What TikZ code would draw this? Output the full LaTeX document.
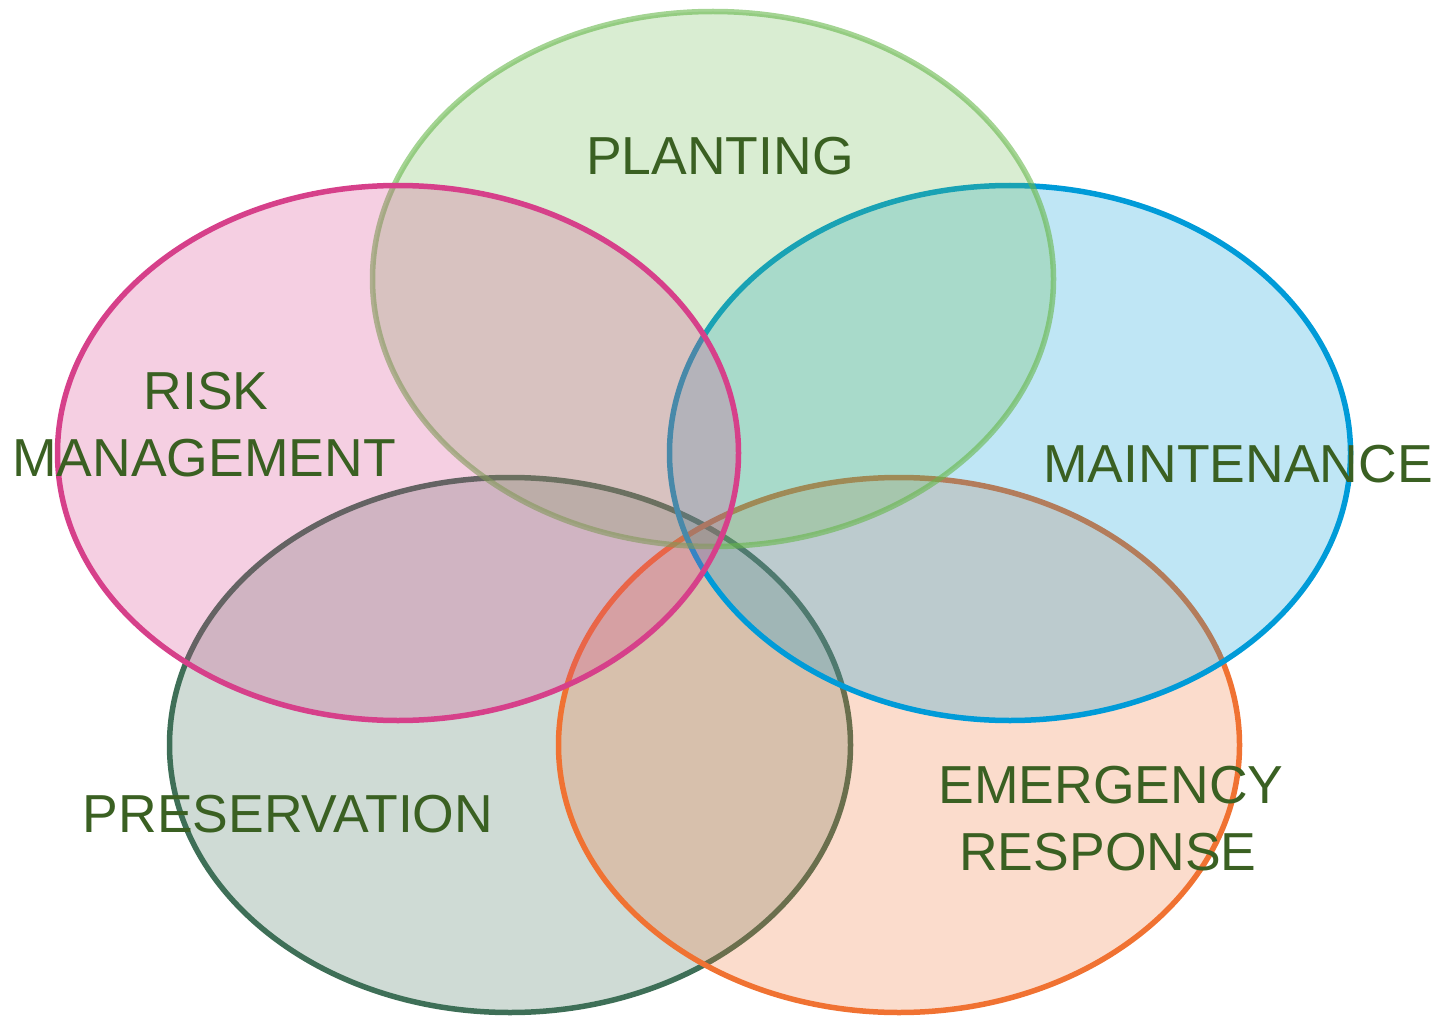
\documentclass[tikz,border=0pt]{standalone}
\usepackage{fontspec}
\setmainfont{Liberation Sans}
\definecolor{cplant}{HTML}{67B74B}
\definecolor{cpink}{HTML}{D6408A}
\definecolor{cblue}{HTML}{009BD8}
\definecolor{cpres}{HTML}{3E6F57}
\definecolor{corange}{HTML}{F07232}
\definecolor{ctext}{HTML}{3A6022}
\begin{document}
\begin{tikzpicture}[x=1pt,y=-1pt,
  blob/.style={line width=5.5pt, fill opacity=0.25},
  lbl/.style={text=ctext, font=\fontsize{53.5}{64}\selectfont, anchor=base, inner sep=0pt}]
\useasboundingbox (0,0) rectangle (1443,1019);
\coordinate (cpres) at (510,745);
\coordinate (corange) at (899,745);
\coordinate (cblue) at (1010,453);
\coordinate (cplant) at (713,279);
\coordinate (cpink) at (398,453);
\path[blob, draw=cpres, fill=cpres] (cpres) ellipse [x radius=340.5pt, y radius=267.5pt];
\path[blob, draw=corange, fill=corange] (corange) ellipse [x radius=340.5pt, y radius=267.5pt];
\path[blob, draw=cblue, fill=cblue] (cblue) ellipse [x radius=340.5pt, y radius=267.5pt];
\path[blob, draw=cplant, fill=cplant, draw opacity=0.6] (cplant) ellipse [x radius=340.5pt, y radius=267.5pt];
\path[blob, draw=cpink, fill=cpink] (cpink) ellipse [x radius=340.5pt, y radius=267.5pt];
\node[lbl] (planting) at (720,175) {PLANTING};
\node[lbl] (risk) at (206,409) {RISK};
\node[lbl] (mgmt) at (204,476) {MANAGEMENT};
\node[lbl] (maint) at (1238,482) {MAINTENANCE};
\node[lbl] (pres) at (288,832) {PRESERVATION};
\node[lbl] (emerg) at (1111,803) {EMERGENCY};
\node[lbl] (resp) at (1108,870) {RESPONSE};
\end{tikzpicture}
\end{document}
